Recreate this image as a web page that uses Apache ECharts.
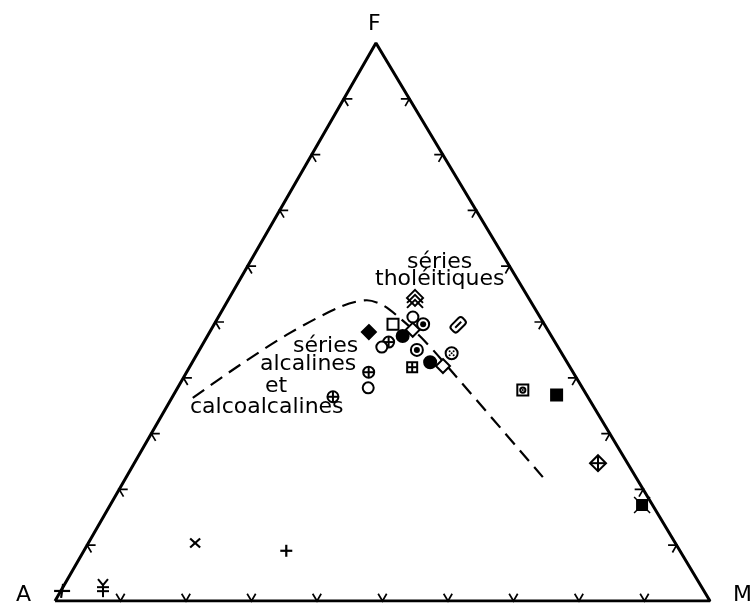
<!DOCTYPE html>
<html>
<head>
<meta charset="utf-8">
<script src="https://cdn.jsdelivr.net/npm/echarts@6/dist/echarts.min.js"></script>
<style>
  html, body { margin: 0; background: #fff; }
  #chart { width: 752px; height: 604px; }
</style>
</head>
<body>
<div id="chart"></div>
<script>
// diagramme AFM : valeurs en %, A = 100 - F - M
const tickValues = [10, 20, 30, 40, 50, 60, 70, 80, 90];

// échantillons
const sampleKind = ['chevrons', 'circle', 'bullseye', 'square', 'diamondFilled', 'circleFilled',
  'diamond', 'circlePlus', 'circle', 'roundDiamond', 'bullseye', 'circleFilled', 'circleDots',
  'diamond', 'squareGrid', 'circlePlus', 'circle', 'circlePlus', 'squareDot', 'squareFilled',
  'diamondPlus', 'starSquare', 'cross', 'plus', 'plusBig', 'yen'];
const sampleF = [53.6, 50.9, 49.6, 49.6, 48.2, 47.5, 48.6, 46.4, 45.5, 49.5, 45.0, 42.8, 44.4,
  42.1, 41.9, 41.0, 38.2, 36.6, 37.8, 36.9, 24.7, 17.2, 10.4, 9.0, 1.8, 2.3];
const sampleM = [28.7, 29.7, 31.9, 27.3, 24.3, 29.8, 30.8, 28.2, 27.6, 37.3, 33.2, 36.3, 38.8,
  38.6, 34.0, 27.8, 29.1, 24.5, 52.9, 58.5, 70.8, 81.2, 16.3, 30.9, 0.2, 6.2];

// limite tholéitique / calcoalcaline (tiretés)
const boundaryF = [36.4, 42.3, 48.0, 52.7, 53.9, 53.0, 50.7, 46.6, 40.5, 22.2];
const boundaryM = [3.2, 7.5, 12.3, 17.7, 21.2, 24.1, 27.8, 33.6, 41.2, 63.6];

// projection ternaire -> plan
const APEX = 0.49;
function toXY(f, m) { return [m + APEX * f, f]; }

const ink = '#000';
const lw = 2;
function ln(x1, y1, x2, y2, w) {
  return { type: 'line', shape: { x1, y1, x2, y2 }, style: { stroke: ink, lineWidth: w || lw } };
}
function circ(r, fill, cx, cy) {
  return { type: 'circle', shape: { cx: cx || 0, cy: cy || 0, r }, style: { fill, stroke: ink, lineWidth: lw } };
}
function poly(points, fill) {
  return { type: 'polygon', shape: { points }, style: { fill, stroke: ink, lineWidth: lw } };
}
function pline(points, w) {
  return { type: 'polyline', shape: { points }, style: { fill: null, stroke: ink, lineWidth: w || lw } };
}
function dot(x, y, r) {
  return { type: 'circle', shape: { cx: x, cy: y, r }, style: { fill: ink } };
}

function drawSymbol(kind) {
  switch (kind) {
    case 'circle': return [circ(5.5, '#fff')];
    case 'circleFilled': return [circ(6, ink)];
    case 'bullseye': return [circ(6, '#fff'), dot(0, 0, 3)];
    case 'circlePlus': return [circ(5.5, '#fff'), ln(-5.5, 0, 5.5, 0), ln(0, -5.5, 0, 5.5)];
    case 'circleDots': return [circ(6, '#fff'), dot(-2, -2, 1), dot(2, -2, 1), dot(-2, 2, 1), dot(2, 2, 1), dot(0, 0, 1)];
    case 'square': return [poly([[-5.5, -5.5], [5.5, -5.5], [5.5, 5.5], [-5.5, 5.5]], '#fff')];
    case 'squareGrid': return [poly([[-5, -5], [5, -5], [5, 5], [-5, 5]], '#fff'), ln(-5, 0, 5, 0), ln(0, -5, 0, 5)];
    case 'squareDot': return [poly([[-5.5, -5.5], [5.5, -5.5], [5.5, 5.5], [-5.5, 5.5]], '#fff'), circ(2.6, '#fff'), dot(0, 0, 1)];
    case 'squareFilled': return [poly([[-5.5, -5.5], [5.5, -5.5], [5.5, 5.5], [-5.5, 5.5]], ink)];
    case 'diamondFilled': return [poly([[0, -7], [7, 0], [0, 7], [-7, 0]], ink)];
    case 'diamond': return [poly([[0, -7], [7, 0], [0, 7], [-7, 0]], '#fff')];
    case 'diamondPlus': return [poly([[0, -8], [8, 0], [0, 8], [-8, 0]], '#fff'), ln(-8, 0, 8, 0), ln(0, -8, 0, 8)];
    case 'roundDiamond': return [
      { type: 'rect', shape: { x: -4.5, y: -8, width: 9, height: 16, r: 3 }, rotation: -Math.PI / 4,
        style: { fill: '#fff', stroke: ink, lineWidth: lw } },
      ln(-3, 3, 3, -3)
    ];
    case 'chevrons': return [
      poly([[0, -12], [8, -4], [0, 4], [-8, -4]], '#fff'),
      pline([[-8, 1], [0, -7], [8, 1]]),
      pline([[-8, 6], [0, -2], [8, 6]])
    ];
    case 'starSquare': return [
      poly([[-5, -5], [5, -5], [5, 5], [-5, 5]], ink),
      ln(-8, -8, 8, 8, 1.5), ln(-8, 8, 8, -8, 1.5)
    ];
    case 'cross': return [ln(-5, -4.5, 5, 4.5, 2.2), ln(-5, 4.5, 5, -4.5, 2.2)];
    case 'plus': return [ln(-6, 0, 6, 0, 2.2), ln(0, -6, 0, 6, 2.2)];
    case 'plusBig': return [ln(-8, 0, 8, 0, 2.2), ln(1, -7, -1, 7, 2.2)];
    case 'yen': return [
      pline([[-5, -9], [0, -3], [5, -9]], 2), ln(0, -3, 0, 9, 2),
      ln(-6, -1, 6, -1, 2), ln(-6, 3, 6, 3, 2)
    ];
  }
  return [];
}

// données construites depuis les tableaux
const sampleData = sampleF.map((f, i) => toXY(f, sampleM[i]).concat([i]));
const boundaryData = boundaryF.map((f, i) => toXY(f, boundaryM[i]));
const frameData = [toXY(0, 0), toXY(0, 100), toXY(100, 0), toXY(0, 0)];

const s = 1.3; // longueur des amorces
const tickData = [];
tickValues.forEach(v => {
  // côté A-M (F = 0)
  tickData.push(toXY(0, v).concat(toXY(s, v), toXY(s, v - s)));
  // côté A-F (M = 0)
  tickData.push(toXY(v, 0).concat(toXY(v, s), toXY(v - s, s)));
  // côté F-M (A = 0)
  tickData.push(toXY(v, 100 - v).concat(toXY(v, 100 - v - s), toXY(v - s, 100 - v)));
});

const chart = echarts.init(document.getElementById('chart'));
const font = '"DejaVu Sans", sans-serif';
function label(text, x, y, size) {
  return { type: 'text', x, y, style: { text, fill: ink, fontSize: size || 22, fontFamily: font, verticalAlign: 'middle' } };
}

chart.setOption({
  animation: false,
  backgroundColor: '#fff',
  grid: { left: 55, top: 43, width: 655, height: 558 },
  xAxis: { type: 'value', min: 0, max: 100, show: false },
  yAxis: { type: 'value', min: 0, max: 100, show: false },
  series: [
    {
      type: 'line', data: frameData, symbol: 'none', silent: true,
      lineStyle: { color: ink, width: 3 }, z: 3
    },
    {
      type: 'custom', data: tickData, silent: true, z: 3,
      renderItem: function (params, api) {
        const p0 = api.coord([api.value(0), api.value(1)]);
        const p1 = api.coord([api.value(2), api.value(3)]);
        const p2 = api.coord([api.value(4), api.value(5)]);
        return { type: 'polyline', shape: { points: [p1, p0, p2] }, style: { fill: null, stroke: ink, lineWidth: 1.7 } };
      }
    },
    {
      type: 'line', data: boundaryData, symbol: 'none', smooth: 0.3, silent: true,
      lineStyle: { color: ink, width: 2.2, type: [14, 8] }, z: 2
    },
    {
      type: 'custom', data: sampleData, silent: true, z: 4,
      renderItem: function (params, api) {
        const p = api.coord([api.value(0), api.value(1)]);
        return { type: 'group', x: p[0], y: p[1], children: drawSymbol(sampleKind[api.value(2)]) };
      }
    }
  ],
  graphic: [
    label('A', 16, 595), label('F', 368, 24), label('M', 733, 595),
    label('séries', 407, 262), label('tholéitiques', 375, 279),
    label('séries', 293, 346), label('alcalines', 260, 364),
    label('et', 265, 386), label('calcoalcalines', 190, 407)
  ]
});
</script>
</body>
</html>
